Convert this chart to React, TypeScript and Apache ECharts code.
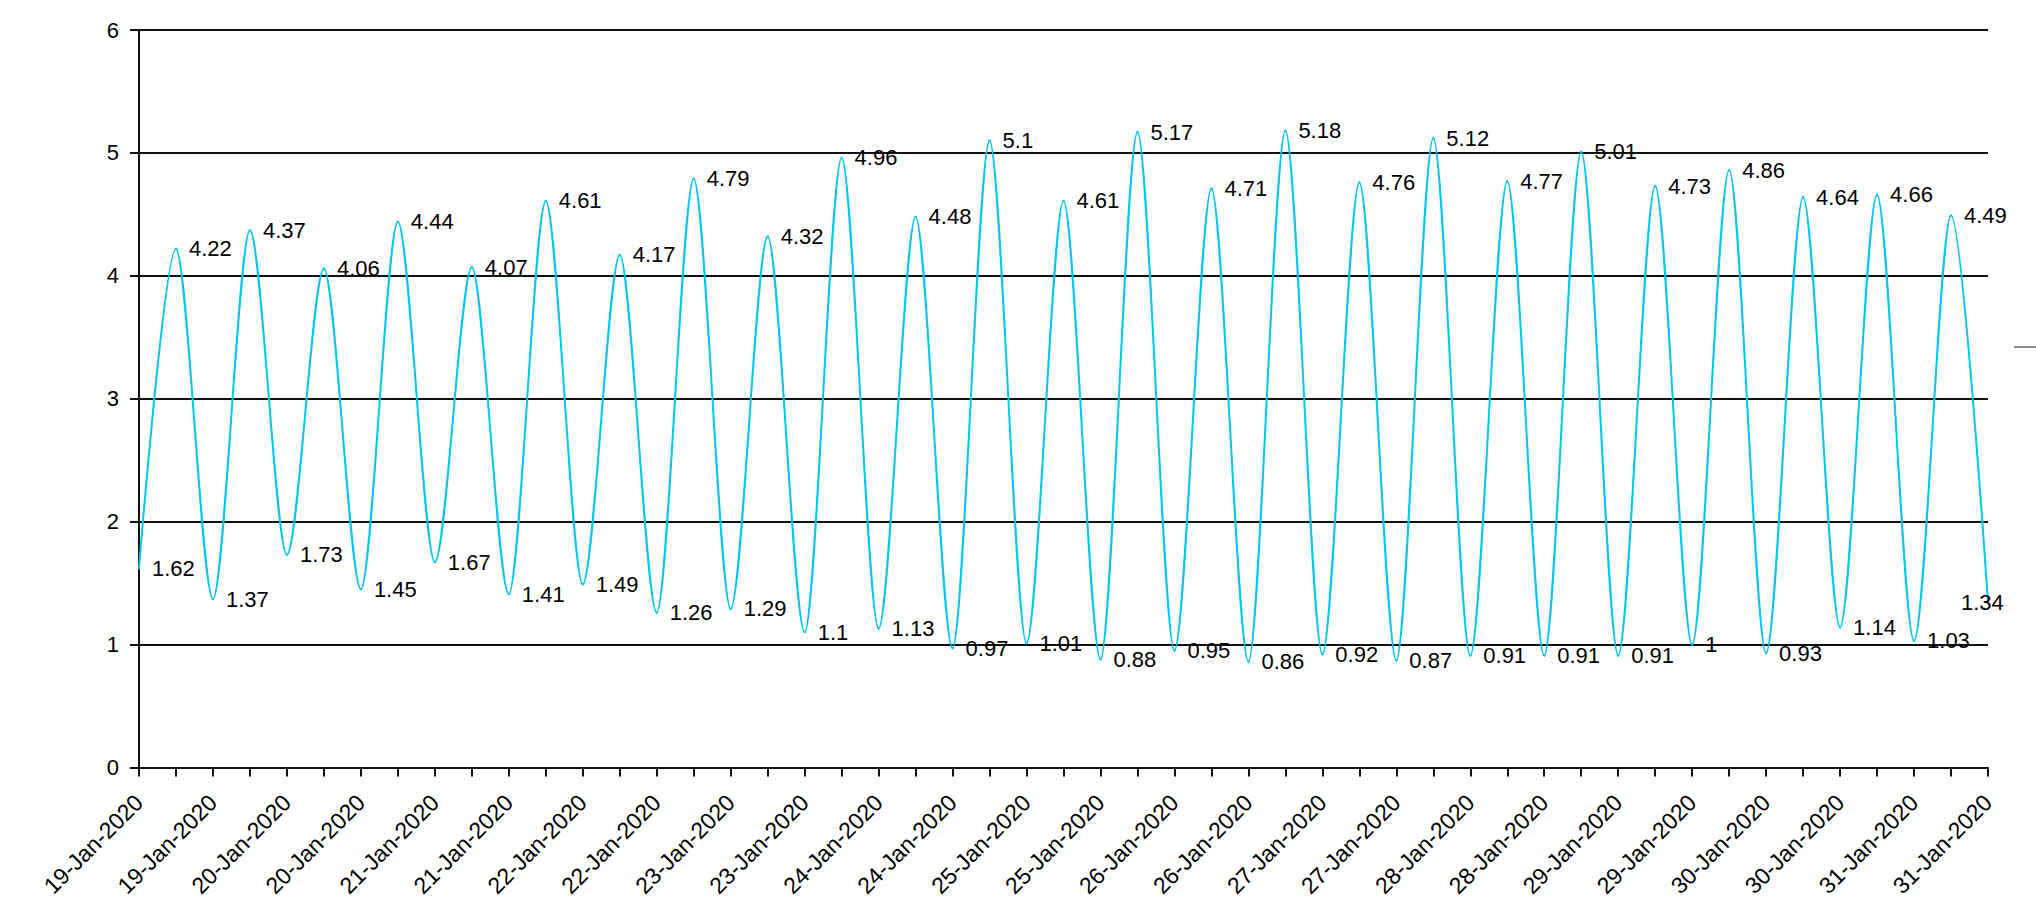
import React, { useEffect, useRef } from "react";
import * as echarts from "echarts";

// Category per tide extreme (low, high, low, high, ...)
const tideDates: string[] = [
  "19-Jan-2020", "19-Jan-2020", "19-Jan-2020", "20-Jan-2020", "20-Jan-2020",
  "20-Jan-2020", "20-Jan-2020", "21-Jan-2020", "21-Jan-2020", "21-Jan-2020",
  "21-Jan-2020", "22-Jan-2020", "22-Jan-2020", "22-Jan-2020", "22-Jan-2020",
  "23-Jan-2020", "23-Jan-2020", "23-Jan-2020", "23-Jan-2020", "24-Jan-2020",
  "24-Jan-2020", "24-Jan-2020", "24-Jan-2020", "25-Jan-2020", "25-Jan-2020",
  "25-Jan-2020", "25-Jan-2020", "26-Jan-2020", "26-Jan-2020", "26-Jan-2020",
  "26-Jan-2020", "27-Jan-2020", "27-Jan-2020", "27-Jan-2020", "27-Jan-2020",
  "28-Jan-2020", "28-Jan-2020", "28-Jan-2020", "28-Jan-2020", "29-Jan-2020",
  "29-Jan-2020", "29-Jan-2020", "29-Jan-2020", "30-Jan-2020", "30-Jan-2020",
  "30-Jan-2020", "30-Jan-2020", "31-Jan-2020", "31-Jan-2020", "31-Jan-2020",
  "31-Jan-2020",
];

const lowTides: number[] = [
  1.62, 1.37, 1.73, 1.45, 1.67, 1.41, 1.49, 1.26, 1.29, 1.1, 1.13, 0.97, 1.01,
  0.88, 0.95, 0.86, 0.92, 0.87, 0.91, 0.91, 0.91, 1, 0.93, 1.14, 1.03, 1.34,
];

const highTides: number[] = [
  4.22, 4.37, 4.06, 4.44, 4.07, 4.61, 4.17, 4.79, 4.32, 4.96, 4.48, 5.1, 4.61,
  5.17, 4.71, 5.18, 4.76, 5.12, 4.77, 5.01, 4.73, 4.86, 4.64, 4.66, 4.49,
];

const yMin = 0;
const yMax = 6;
const yStep = 1;

const FONT = "'Liberation Sans', Arial, sans-serif";
const LINE_COLOR = "#00c4f2";
const DARK = "#111111";

export default function App() {
  const ref = useRef<HTMLDivElement>(null);

  useEffect(() => {
    if (!ref.current) return;
    const chart = echarts.init(ref.current, undefined, { renderer: "svg" });

    const levels: number[] = [];
    for (let i = 0; i < lowTides.length; i++) {
      levels.push(lowTides[i]);
      if (i < highTides.length) levels.push(highTides[i]);
    }
    const seriesData = levels.map((v, i) =>
      i === levels.length - 1
        ? { value: v, label: { offset: [-40, 0] } }
        : { value: v }
    );

    chart.setOption({
      animation: false,
      backgroundColor: "#ffffff",
      textStyle: { fontFamily: FONT },
      grid: { left: 139, right: 48, top: 30, bottom: 130, containLabel: false },
      xAxis: {
        type: "category",
        data: tideDates,
        boundaryGap: false,
        axisLine: { lineStyle: { color: DARK, width: 2 } },
        axisTick: {
          show: true,
          interval: 0,
          length: 9,
          lineStyle: { color: DARK, width: 2 },
        },
        axisLabel: {
          interval: 1,
          rotate: 45,
          margin: 31,
          color: "#000",
          fontSize: 23,
          fontFamily: FONT,
        },
        splitLine: { show: false },
      },
      yAxis: {
        type: "value",
        min: yMin,
        max: yMax,
        interval: yStep,
        axisLine: { show: true, lineStyle: { color: DARK, width: 2 } },
        axisTick: { show: true, length: 9, lineStyle: { color: DARK, width: 2 } },
        axisLabel: {
          margin: 20,
          color: "#000",
          fontSize: 22,
          fontFamily: FONT,
        },
        splitLine: { show: true, lineStyle: { color: DARK, width: 2 } },
      },
      series: [
        {
          type: "line",
          data: seriesData,
          smooth: 0.3,
          smoothMonotone: "x",
          symbol: "circle",
          symbolSize: 2,
          showSymbol: true,
          showAllSymbol: true,
          itemStyle: { color: LINE_COLOR },
          lineStyle: { color: LINE_COLOR, width: 2 },
          label: {
            show: true,
            position: "right",
            distance: 12,
            color: "#000",
            fontSize: 22,
            fontFamily: FONT,
          },
          z: 3,
        },
      ],
      graphic: [
        {
          type: "line",
          shape: { x1: 2014, y1: 347, x2: 2036, y2: 347 },
          style: { stroke: "#8a8a8a", lineWidth: 2 },
        },
      ],
    });

    return () => chart.dispose();
  }, []);

  return (
    <div
      ref={ref}
      style={{ position: "fixed", left: 0, top: 0, width: 2036, height: 900 }}
    />
  );
}
